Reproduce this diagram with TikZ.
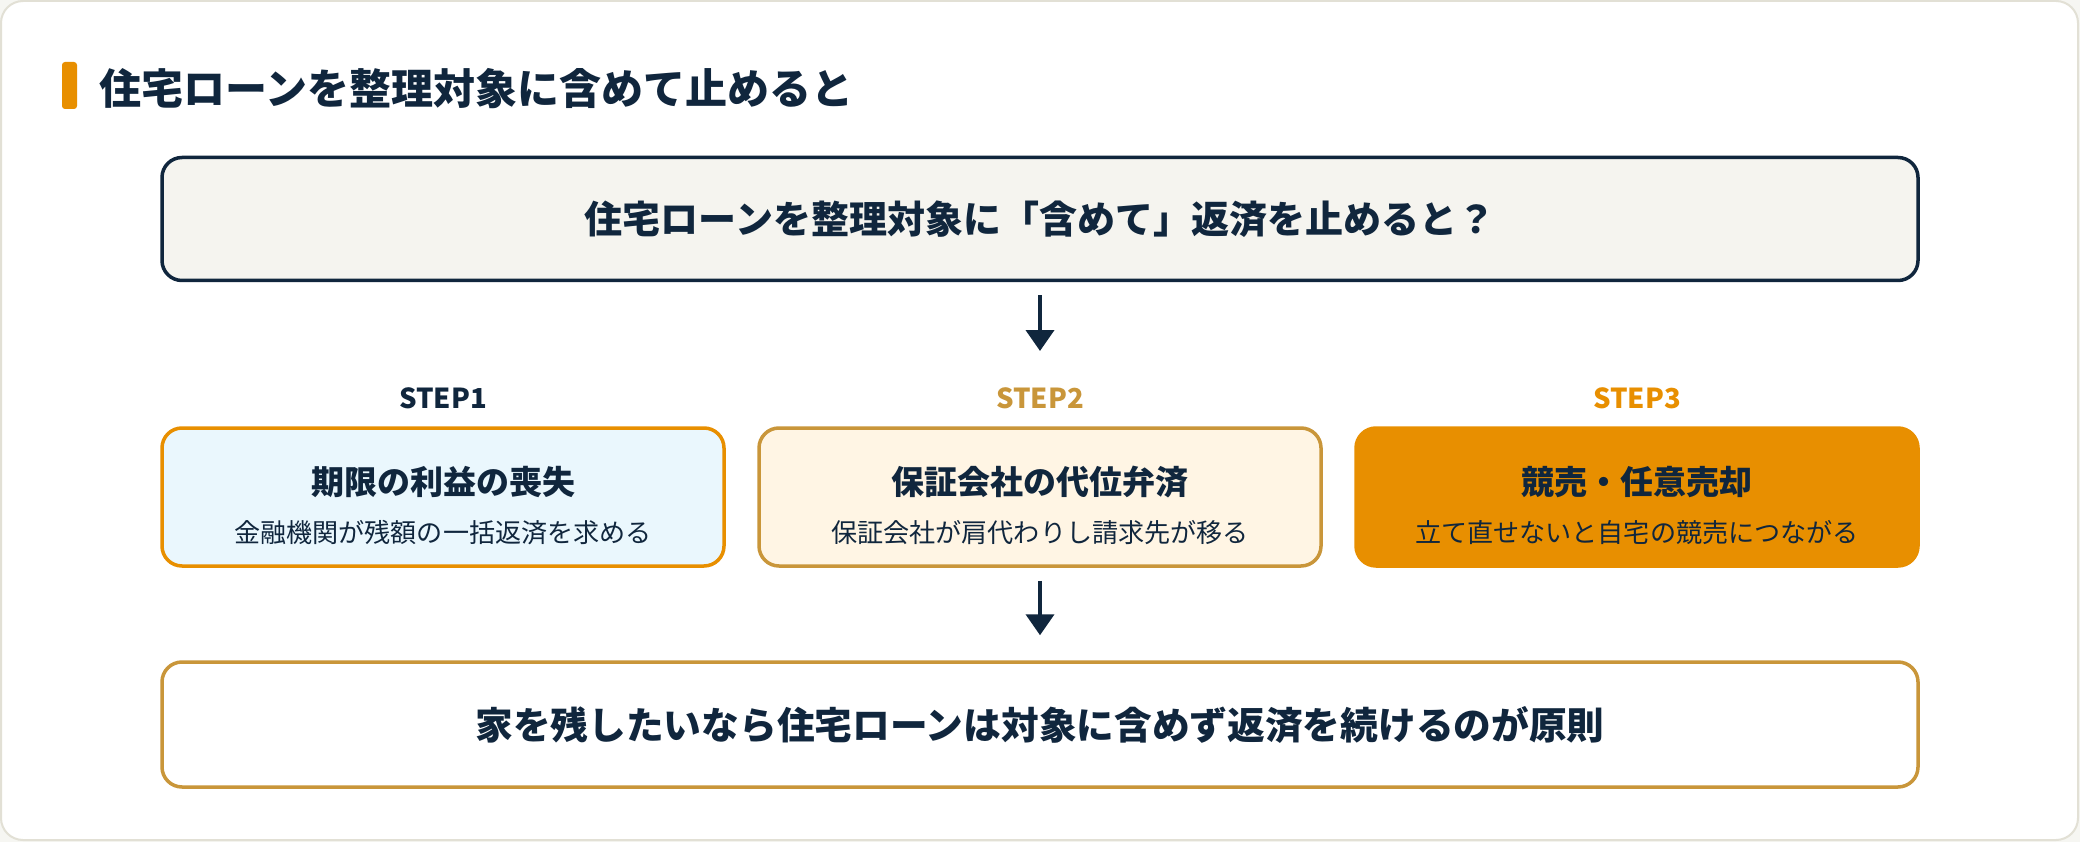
\documentclass[tikz,border=0pt]{standalone}
\usepackage{fontspec}
\setmainfont{Noto Sans CJK JP}
\usetikzlibrary{arrows.meta}
\definecolor{navy}{HTML}{10263D}
\definecolor{orangec}{HTML}{E88F00}
\definecolor{goldc}{HTML}{C9963A}
\definecolor{lightblue}{HTML}{EAF7FD}
\definecolor{creamc}{HTML}{FFF5E4}
\definecolor{topfill}{HTML}{F5F4EF}
\definecolor{cardline}{HTML}{E2E0D5}
\definecolor{outbg}{HTML}{F6F6F2}
\tikzset{
  box/.style={rectangle, rounded corners=20, line width=3.5, inner sep=0},
  stepbox/.style={box, minimum width=562, minimum height=138},
  wide/.style={box, minimum width=1756, minimum height=123},
  ttl/.style={font=\fontsize{33}{40}\selectfont\bfseries, text=navy, inner sep=0},
  sub/.style={font=\fontsize{26.1}{32}\selectfont, text=navy, inner sep=0},
  steplab/.style={font=\fontsize{27.5}{32}\selectfont\bfseries, inner sep=0},
  arr/.style={draw=navy, line width=4, -{Triangle[length=21, width=28]}},
}
\begin{document}
\begin{tikzpicture}[x=1pt,y=-1pt]
\useasboundingbox (0,0) rectangle (2080,842);
\fill[outbg] (0,0) rectangle (2080,842);
\draw[cardline, line width=2, fill=white, rounded corners=22] (1,1) rectangle (2078,840);
% heading
\fill[orangec, rounded corners=3] (62,62) rectangle (77,109);
\node[anchor=west, inner sep=0, text=navy, font=\fontsize{42}{50}\selectfont\bfseries] (head) at (99,89) {住宅ローンを整理対象に含めて止めると};
% top box
\node[wide, draw=navy, fill=topfill] (top) at (1040,219) {};
\node[inner sep=0, text=navy, font=\fontsize{38}{46}\selectfont\bfseries] (toptext) at (top.center) {住宅ローンを整理対象に「含めて」返済を止めると？};
% step labels
\node[steplab, text=navy] (lab1) at (443,398) {STEP1};
\node[steplab, text=goldc] (lab2) at (1040,398) {STEP2};
\node[steplab, text=orangec] (lab3) at (1637,398) {STEP3};
% step boxes
\node[stepbox, draw=orangec, fill=lightblue] (s1) at (443,497) {};
\node[stepbox, draw=goldc, fill=creamc] (s2) at (1040,497) {};
\node[stepbox, draw=orangec, fill=orangec] (s3) at (1637,497) {};
\node[ttl] (t1) at (443,482) {期限の利益の喪失};
\node[sub] (u1) at (443,533) {金融機関が残額の一括返済を求める};
\node[ttl] (t2) at (1040,482) {保証会社の代位弁済};
\node[sub] (u2) at (1040,533) {保証会社が肩代わりし請求先が移る};
\node[ttl] (t3) at (1637,482) {競売・任意売却};
\node[sub] (u3) at (1637,533) {立て直せないと自宅の競売につながる};
% bottom box
\node[box, draw=goldc, fill=white, minimum width=1756, minimum height=125] (bot) at (1040,724.5) {};
\node[inner sep=0, text=navy, font=\fontsize{37.7}{45}\selectfont\bfseries] (bottext) at (bot.center) {家を残したいなら住宅ローンは対象に含めず返済を続けるのが原則};
% arrows
\coordinate (a1e) at (1040,351);
\draw[arr, shorten <=13] (top.south) -- (a1e);
\draw[arr, shorten <=13, shorten >=25] (s2.south) -- (bot.north);
\end{tikzpicture}
\end{document}
